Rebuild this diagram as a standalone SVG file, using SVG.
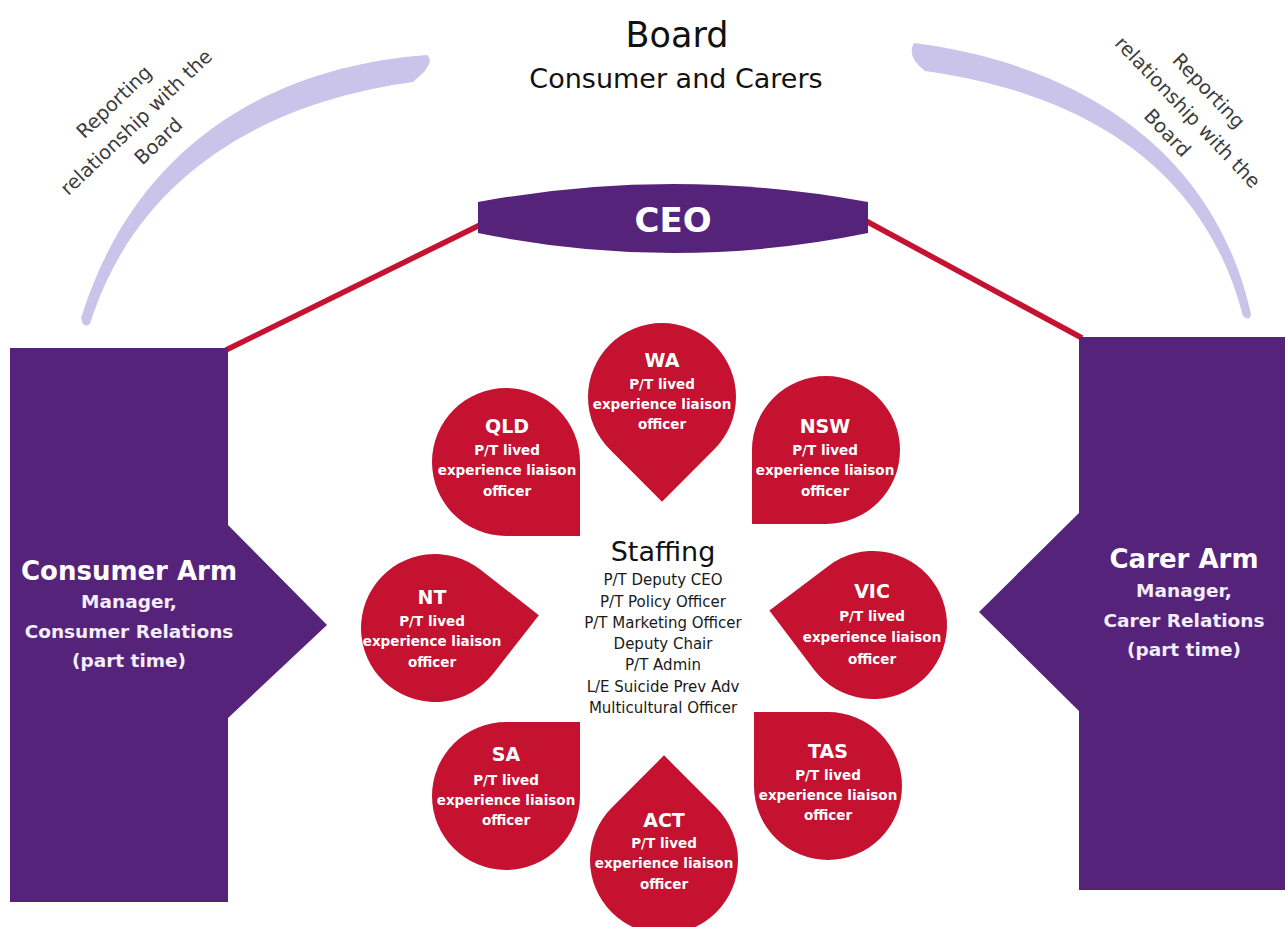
<svg xmlns="http://www.w3.org/2000/svg" xmlns:xlink="http://www.w3.org/1999/xlink" width="1285" height="927" viewBox="0 0 1285 927">
  <defs>
    <style>
      .purple { fill: #55247a; }
      .drop { fill: #c41230; }
      .arc { fill: #cbc4ea; }
      .link { stroke: #c41230; stroke-width: 5.5; fill: none; stroke-linecap: butt; }
      text { font-family: "DejaVu Sans", "Liberation Sans", sans-serif; text-anchor: middle; }
      .title { font-size: 35px; fill: #111; }
      .subtitle { font-size: 27px; fill: #111; }
      .ceo { font-size: 34px; font-weight: bold; fill: #fff; }
      .arm { font-size: 26px; font-weight: bold; fill: #fff; }
      .armsub { font-size: 18.5px; font-weight: bold; fill: #f3eefa; }
      .dt { font-size: 19px; font-weight: bold; fill: #fff; }
      .dl { font-size: 13.5px; font-weight: bold; fill: #fff; }
      .staff-h { font-size: 27px; fill: #111; }
      .staff { font-size: 15px; fill: #1a1a1a; }
      .note { font-size: 19.5px; fill: #3d3d3d; }
    </style>
    <!-- teardrop: circle r=74 with a square corner pointing along +x -->
    <path id="drop" d="M104.65,0 L52.33,52.33 A74,74 0 1 1 52.33,-52.33 Z"/>
  </defs>

  <rect width="1285" height="927" fill="#fff"/>

  <!-- connectors -->
  <g id="connectors">
    <line class="link" x1="480" y1="225" x2="226" y2="350"/>
    <line class="link" x1="866" y1="221" x2="1082" y2="338"/>
    <path class="arc" d="M427,55 Q434,60 424,72 L413,82 C280,100 140,165 90,324 Q83,329 81,318 C140,130 290,65 427,55 Z"/>
    <path class="arc" d="M914,43 C1050,60 1210,130 1251,314 Q1250,322 1243,316 C1200,150 1060,90 925,71 Q906,56 914,43 Z"/>
    <g transform="translate(136,122) rotate(-43.6)">
      <text class="note" x="-2" y="-23">Reporting</text>
      <text class="note" x="0" y="7">relationship with the</text>
      <text class="note" x="3" y="36">Board</text>
    </g>
    <g transform="translate(1188,112) rotate(46.4)">
      <text class="note" x="-1" y="-23">Reporting</text>
      <text class="note" x="0" y="7">relationship with the</text>
      <text class="note" x="1" y="36">Board</text>
    </g>
  </g>

  <!-- board heading -->
  <g id="board">
    <text class="title" x="677" y="47">Board</text>
    <text class="subtitle" x="676" y="88">Consumer and Carers</text>
  </g>

  <!-- CEO lens -->
  <g id="ceo">
    <path class="purple" d="M478,202 Q673,166 868,202 L868,233 Q673,273 478,233 Z"/>
    <text class="ceo" x="673" y="232">CEO</text>
  </g>

  <!-- consumer arm -->
  <g id="consumer-arm">
    <path class="purple" d="M10,348 H228 V525 L327,625 L228,718 V902 H10 Z"/>
    <text class="arm" x="129" y="580">Consumer Arm</text>
    <text class="armsub" x="129" y="608">Manager,</text>
    <text class="armsub" x="129" y="638">Consumer Relations</text>
    <text class="armsub" x="129" y="667">(part time)</text>
  </g>

  <!-- carer arm -->
  <g id="carer-arm">
    <path class="purple" d="M1079,337 H1285 V890 H1079 V711 L979,612 L1079,513 Z"/>
    <text class="arm" x="1184" y="568">Carer Arm</text>
    <text class="armsub" x="1184" y="597">Manager,</text>
    <text class="armsub" x="1184" y="627">Carer Relations</text>
    <text class="armsub" x="1184" y="656">(part time)</text>
  </g>

  <!-- state liaison officers -->
  <g id="wa">
    <use xlink:href="#drop" class="drop" transform="translate(662,397) rotate(90)"/>
    <text class="dt" x="662" y="367">WA</text>
    <text class="dl" x="662" y="389">P/T lived</text>
    <text class="dl" x="662" y="409">experience liaison</text>
    <text class="dl" x="662" y="429">officer</text>
  </g>
  <g id="qld">
    <use xlink:href="#drop" class="drop" transform="translate(506,462) rotate(45)"/>
    <text class="dt" x="507" y="433">QLD</text>
    <text class="dl" x="507" y="455">P/T lived</text>
    <text class="dl" x="507" y="475">experience liaison</text>
    <text class="dl" x="507" y="496">officer</text>
  </g>
  <g id="nsw">
    <use xlink:href="#drop" class="drop" transform="translate(826,450) rotate(135)"/>
    <text class="dt" x="825" y="433">NSW</text>
    <text class="dl" x="825" y="455">P/T lived</text>
    <text class="dl" x="825" y="475">experience liaison</text>
    <text class="dl" x="825" y="496">officer</text>
  </g>
  <g id="nt">
    <use xlink:href="#drop" class="drop" transform="translate(435,628) rotate(-7)"/>
    <text class="dt" x="432" y="604">NT</text>
    <text class="dl" x="432" y="626">P/T lived</text>
    <text class="dl" x="432" y="646">experience liaison</text>
    <text class="dl" x="432" y="667">officer</text>
  </g>
  <g id="vic">
    <use xlink:href="#drop" class="drop" transform="translate(873,625) rotate(188)"/>
    <text class="dt" x="872" y="598">VIC</text>
    <text class="dl" x="872" y="621">P/T lived</text>
    <text class="dl" x="872" y="642">experience liaison</text>
    <text class="dl" x="872" y="664">officer</text>
  </g>
  <g id="sa">
    <use xlink:href="#drop" class="drop" transform="translate(506,796) rotate(-45)"/>
    <text class="dt" x="506" y="761">SA</text>
    <text class="dl" x="506" y="785">P/T lived</text>
    <text class="dl" x="506" y="805">experience liaison</text>
    <text class="dl" x="506" y="825">officer</text>
  </g>
  <g id="tas">
    <use xlink:href="#drop" class="drop" transform="translate(828,786) rotate(-135)"/>
    <text class="dt" x="828" y="758">TAS</text>
    <text class="dl" x="828" y="780">P/T lived</text>
    <text class="dl" x="828" y="800">experience liaison</text>
    <text class="dl" x="828" y="820">officer</text>
  </g>
  <g id="act">
    <use xlink:href="#drop" class="drop" transform="translate(664,860) rotate(-90)"/>
    <text class="dt" x="664" y="827">ACT</text>
    <text class="dl" x="664" y="848">P/T lived</text>
    <text class="dl" x="664" y="868">experience liaison</text>
    <text class="dl" x="664" y="889">officer</text>
  </g>

  <!-- central staffing list -->
  <g id="staffing">
    <text class="staff-h" x="663" y="561">Staffing</text>
    <text class="staff" x="663" y="585">P/T Deputy CEO</text>
    <text class="staff" x="663" y="607">P/T Policy Officer</text>
    <text class="staff" x="663" y="628">P/T Marketing Officer</text>
    <text class="staff" x="663" y="649">Deputy Chair</text>
    <text class="staff" x="663" y="670">P/T Admin</text>
    <text class="staff" x="663" y="692">L/E Suicide Prev Adv</text>
    <text class="staff" x="663" y="713">Multicultural Officer</text>
  </g>
</svg>
